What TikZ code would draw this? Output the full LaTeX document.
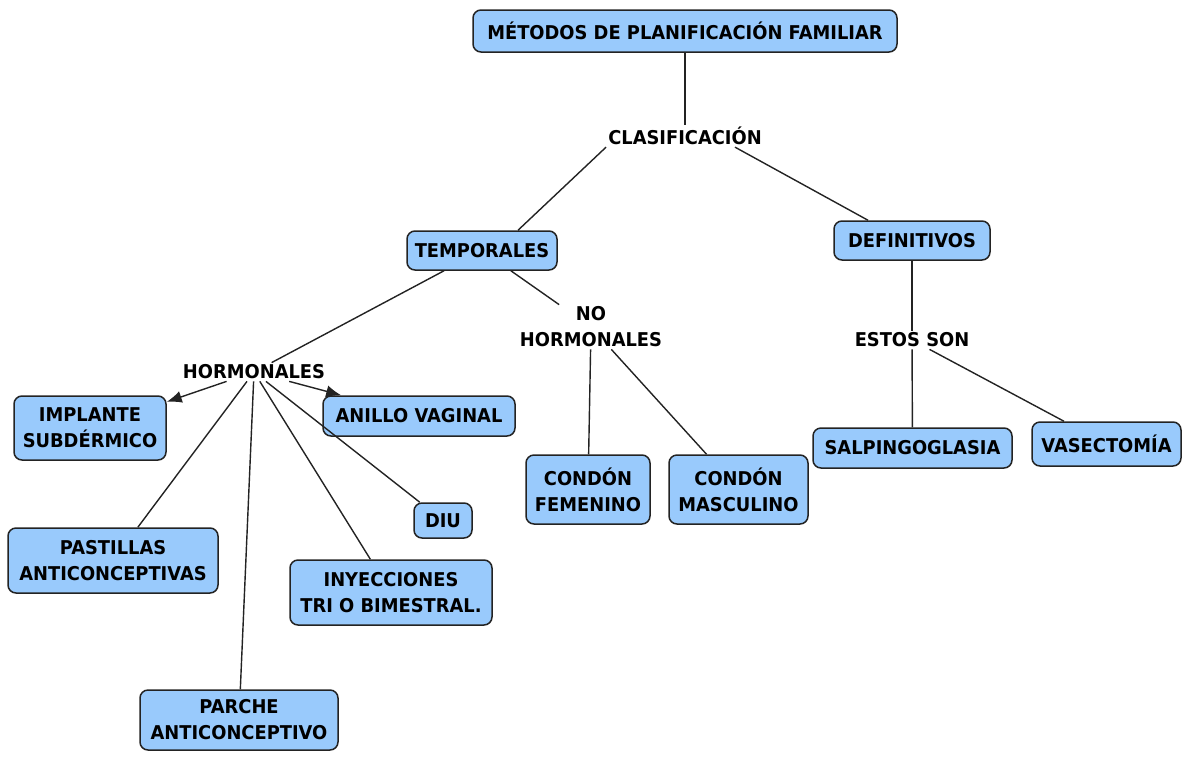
\documentclass[tikz,border=0pt]{standalone}
\usepackage{fontspec}
\setmainfont{DejaVu Sans}[BoldFeatures={FakeStretch=0.94}]
\usetikzlibrary{arrows.meta}
\definecolor{boxfill}{RGB}{153,202,252}
\definecolor{edge}{RGB}{35,35,35}
\tikzset{
  box/.style={draw=edge, line width=1.5pt, fill=boxfill, rounded corners=8pt, align=center, inner sep=2pt, font=\bfseries\fontsize{19}{26}\selectfont},
  lbl/.style={align=center, inner sep=2pt, font=\bfseries\fontsize{19}{26}\selectfont},
  conn/.style={draw=edge, line width=1.4pt},
  arr/.style={conn, -{Latex[length=15pt,width=12pt]}}
}
\begin{document}
\begin{tikzpicture}[x=1pt,y=1pt]
\useasboundingbox (0,0) rectangle (1183,-756);
\node[box, minimum width=424pt, minimum height=42pt] (title) at (685,-31) {MÉTODOS DE PLANIFICACIÓN FAMILIAR};
\node[lbl] (clas) at (685,-136) {CLASIFICACIÓN};
\node[box, minimum width=150pt, minimum height=39pt] (temp) at (482,-250.5) {TEMPORALES};
\node[box, minimum width=156pt, minimum height=39pt] (def) at (912,-240.5) {DEFINITIVOS};
\node[lbl] (nohorm) at (591,-327) {NO\\HORMONALES};
\node[lbl] (horm) at (254,-372) {HORMONALES};
\node[lbl] (estos) at (912,-340) {ESTOS SON};
\node[box, minimum width=152pt, minimum height=64pt] (impl) at (90,-428) {IMPLANTE\\SUBDÉRMICO};
\node[box, minimum width=192pt, minimum height=40pt] (anillo) at (419,-416) {ANILLO VAGINAL};
\node[box, minimum width=58pt, minimum height=35pt] (diu) at (443,-520.5) {DIU};
\node[box, minimum width=210pt, minimum height=65pt] (past) at (113,-560.5) {PASTILLAS\\ANTICONCEPTIVAS};
\node[box, minimum width=202pt, minimum height=65pt] (iny) at (391,-592.5) {INYECCIONES\\TRI O BIMESTRAL.};
\node[box, minimum width=198pt, minimum height=60pt] (parche) at (239,-720) {PARCHE\\ANTICONCEPTIVO};
\node[box, minimum width=124pt, minimum height=69pt] (cfem) at (588,-489.5) {CONDÓN\\FEMENINO};
\node[box, minimum width=139pt, minimum height=69pt] (cmas) at (738.5,-489.5) {CONDÓN\\MASCULINO};
\node[box, minimum width=199pt, minimum height=40pt] (salp) at (912.5,-448) {SALPINGOGLASIA};
\node[box, minimum width=149pt, minimum height=44pt] (vas) at (1106.5,-444) {VASECTOMÍA};

\draw[conn] (title) -- (clas);
\draw[conn] (clas.south west) -- ([xshift=36pt]temp.north);
\draw[conn] ([xshift=50pt]clas.south) -- ([xshift=-44pt]def.north);
\draw[conn] (temp) -- (horm);
\draw[conn] (temp) -- (nohorm);
\draw[conn] (nohorm) -- (cfem);
\draw[conn] (nohorm) -- (cmas);
\draw[conn] (def) -- (estos);
\draw[conn] (estos) -- (salp);
\draw[conn] (estos) -- (vas);
\draw[arr] (horm) -- (impl);
\draw[arr] (horm) -- (anillo);
\draw[conn] (horm) -- (past);
\draw[conn] (horm) -- (parche);
\draw[conn] (horm) -- (iny);
\draw[conn] (horm) -- (diu);
\end{tikzpicture}
\end{document}
